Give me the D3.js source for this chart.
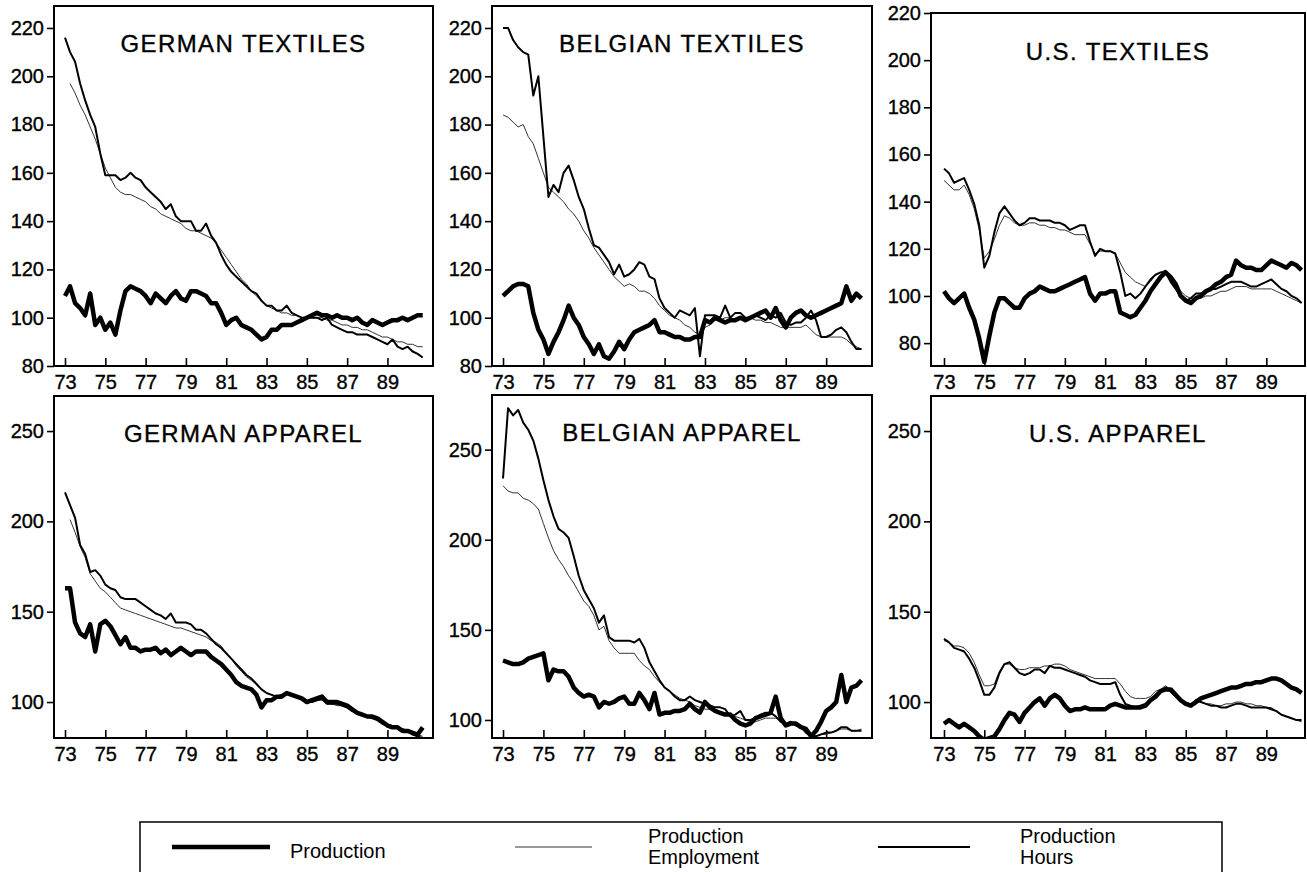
<!DOCTYPE html>
<html>
<head>
<meta charset="utf-8">
<script src="https://cdn.jsdelivr.net/npm/d3@7"></script>
<style>
  body { margin: 0; background: #fff; }
  svg text { font-family: "Liberation Sans", Arial, Helvetica, sans-serif; fill: #000; }
  .heavy { stroke: #000; stroke-width: 0.35px; }
</style>
</head>
<body>
<div id="chart"></div>
<script>
// Quarterly indexes, first point = 1973 Q1, one value per quarter (72 quarters)
var firstYear = 73;
var xTickYears = [73, 75, 77, 79, 81, 83, 85, 87, 89];
var textileTicks = [80, 100, 120, 140, 160, 180, 200, 220];
var apparelTicks = [100, 150, 200, 250];
var usApparelTicks = [100, 150, 200, 250];

// ---- German textiles
var germanTextilesProduction = [109,113,106,104,101,110,97,100,95,98,93,103, 111,113,112,111,109,106,110,108,106,109,111,108,
  107,111,111,110,109,106,106,102, 97,99,100,97,96,95,93,91, 92,95,95,97,97,97,98,99,
  100,101,102,101,101,100,101,100, 100,99,100,98,97,99,98,97, 98,99,99,100,99,100,101,101];
var germanTextilesEmployment = [null,197,193,188,184,179,174,168,162,158,154,152, 151,151,150,149,148,146,145,143,142,141,140,139,
  137,136,136,135,134,133,131,128, 125,122,119,116,114,111,109,107, 105,104,103,102,102,101,101,100,
  100,100,100,100,99,99,98,97, 97,96,96,95,95,94,93,92, 92,91,90,90,89,89,88,88];
var germanTextilesHours = [216,210,206,197,190,184,179,168,159,159,159,157, 158,160,158,157,154,152,150,148,145,147,142,140,
  140,140,136,136,139,134,131,126, 122,119,117,115,113,111,110,107, 105,105,103,103,105,102,101,100,
  100,100,100,99,100,97,96,95, 94,94,93,93,93,92,91,90, 89,91,88,87,88,86,85,83.5];

// ---- Belgian textiles
var belgianTextilesProduction = [109,111,113,114,114,113,102,95,91,85,90,94, 99,105,100,97,92,89,85,89,84,83,86,90,
  87,91,94,95,96,97,99,94, 94,93,92,92,91,91,92,92, 99,98,100,99,98,99,99,100,
  99,100,101,102,103,100,104,99, 96,100,102,103,101,100,101,102, 103,104,105,106,113,107,110,108];
var belgianTextilesEmployment = [184,183,181,179,180,175,172,166,160,154,152,150, 148,145,143,140,136,133,129,126,123,120,117,115,
  113,114,113,111,111,110,108,105, 103,101,100,99,97,96,94,93, 96,97,99,99,100,100,99,100,
  100,100,99,99,98,98,97,96, 96,96,96,96,97,95,93,92, 92,92,92,92,91,89,88,87];
var belgianTextilesHours = [220,220,215,212,210,209,192,200,175,150,155,152, 160,163,157,150,145,137,130,129,126,123,118,122,
  117,118,120,123,122,117,116,108, 104,102,100,103,102,101,104,84, 101,101,101,100,105,100,102,102,
  100,100,101,100,99,101,100,102, 98,97,98,98,100,103,99,92, 92,93,95,96,94,90,87,87];

// ---- U.S. textiles
var usTextilesProduction = [102,99,97,99,101,95,90,82,72,83,93,99, 99,97,95,95,99,101,102,104,103,102,102,103,
  104,105,106,107,108,101,98,101, 101,102,102,93,92,91,92,95, 98,102,105,108,110,108,105,100,
  98,97,99,100,102,103,105,106, 108,109,115,113,112,112,111,111, 113,115,114,113,112,114,113,111];
var usTextilesEmployment = [149,147,145,145,147,143,137,128,116,119,124,130, 134,133,131,130,130,131,131,130,130,129,129,128,
  128,127,126,126,126,122,118,119, 119,119,118,114,110,108,106,105, 104,106,109,110,111,108,105,102,
  100,99,99,99,100,100,101,102, 102,103,104,104,104,103,103,103, 103,103,102,101,100,99,98,97];
var usTextilesHours = [154,152,148,149,150,145,139,130,112,117,127,135, 138,135,132,130,131,133,133,132,132,132,131,131,
  130,128,129,130,130,123,117,120, 119,119,118,110,100,101,99,101, 104,107,109,110,110,106,103,100,
  98,99,101,101,102,103,103,104, 105,106,106,106,105,104,104,105, 106,107,105,103,102,100,99,97];

// ---- German apparel
var germanApparelProduction = [163,163,144,138,136,143,128,143,145,142,137,132, 136,130,130,128,129,129,130,127,129,126,128,130,
  128,126,128,128,128,125,123,121, 118,115,111,109,108,107,104,97, 101,101,103,103,105,104,103,102,
  100,101,102,103,100,100,100,99, 98,96,94,93,92,92,91,89, 87,86,86,84,84,83,82,86];
var germanApparelEmployment = [null,201,194,186,180,171,167,163,161,158,155,152, 151,150,149,148,147,146,145,144,143,142,141,141,
  140,139,138,137,136,134,133,131, 127,124,120,117,114,112,110,107, 105,104,103,104,104,104,103,101,
  100,100,101,101,99,99,98,98, 97,96,94,93,92,91,90,89, 88,87,86,85,84,83,82,81];
var germanApparelHours = [216,209,202,187,182,172,173,170,165,163,162,158, 157,157,157,155,153,151,149,148,146,149,144,144,
  144,143,140,140,138,135,132,130, 127,124,121,118,115,113,110,107, 105,104,103,104,105,104,103,102,
  100,100,101,102,99,99,99,98, 97,95,94,93,92,91,90,88, 87,86,86,85,84,82,81,80];

// ---- Belgian apparel
var belgianApparelProduction = [133,132,131,131,132,134,135,136,137,122,128,127, 127,124,118,115,113,114,113,107,110,109,110,112,
  113,109,109,115,111,106,115,103, 104,104,105,105,106,109,106,104, 110,107,105,104,103,103,100,98,
  97,98,101,102,103,104,113,101, 97,98,98,96,95,91,94,99, 105,107,110,125,110,118,119,122];
var belgianApparelEmployment = [230,227,226,226,223,222,220,217,209,201,194,189, 185,180,176,171,166,163,158,150,152,144,140,137,
  137,137,137,133,130,128,124,121, 118,116,114,112,111,110,108,107, 106,106,105,104,104,103,102,101,
  100,99,99,100,101,101,101,100, 98,98,97,97,94,91,91,92, 92,93,94,95,95,94,94,95];
var belgianApparelHours = [234,273,269,272,265,261,255,245,233,222,213,206, 204,201,191,180,172,167,162,154,158,146,144,144,
  144,144,143,145,140,132,127,122, 118,116,113,111,111,113,111,110, 109,108,107,107,106,102,103,105,
  100,100,101,103,104,104,102,99, 98,99,97,96,93,91,91,92, 93,93,94,96,96,94,94,94];

// ---- U.S. apparel
var usApparelProduction = [88,90,88,86,88,86,84,81,79,80,81,85, 90,94,93,89,94,97,100,102,98,102,104,102,
  98,95,96,96,97,96,96,96, 96,98,99,98,97,97,97,97, 98,101,103,106,107,107,104,101,
  99,98,100,102,103,104,105,106, 107,108,108,109,110,110,111,111, 112,113,113,112,110,108,107,105];
var usApparelEmployment = [134,133,131,131,130,127,122,115,109,109,110,117, 121,121,119,118,118,119,119,119,120,120,121,121,
  120,118,117,116,115,114,113,113, 113,113,113,110,106,103,102,102, 102,103,106,107,109,107,104,101,
  100,99,101,100,99,99,98,98, 99,99,100,100,99,99,98,98, 97,97,95,93,92,91,90,89];
var usApparelHours = [135,133,130,129,128,124,119,112,104,104,108,116, 121,122,119,116,115,116,118,118,116,120,119,119,
  118,117,116,115,114,112,111,110, 110,110,111,104,99,98,97,98, 99,101,104,106,108,106,103,101,
  99,98,101,100,99,98,98,97, 97,98,99,99,98,97,97,97, 97,96,95,93,92,91,90,90];

var seriesNames = ["Production", "Production Employment", "Production Hours"];

// layout of the six boxes (pixels) and the axis extent each box shows
var panels = [
  { title: "GERMAN TEXTILES", data: [germanTextilesProduction, germanTextilesEmployment, germanTextilesHours],
    ticks: textileTicks, left: 54, right: 433, top: 6, bottom: 366, xDom: [72.454, 91.26], yDom: [80, 229.1], titleY: 52 },
  { title: "BELGIAN TEXTILES", data: [belgianTextilesProduction, belgianTextilesEmployment, belgianTextilesHours],
    ticks: textileTicks, left: 492, right: 872, top: 6, bottom: 366, xDom: [72.455, 91.27], yDom: [80, 229.1], titleY: 52 },
  { title: "U.S. TEXTILES", data: [usTextilesProduction, usTextilesEmployment, usTextilesHours],
    ticks: textileTicks, left: 931, right: 1305, top: 13, bottom: 366, xDom: [72.355, 90.92], yDom: [70.3, 220], titleY: 60 },
  { title: "GERMAN APPAREL", data: [germanApparelProduction, germanApparelEmployment, germanApparelHours],
    ticks: apparelTicks, left: 54, right: 433, top: 396, bottom: 738, xDom: [72.454, 91.26], yDom: [80.1, 269.4], titleY: 442 },
  { title: "BELGIAN APPAREL", data: [belgianApparelProduction, belgianApparelEmployment, belgianApparelHours],
    ticks: apparelTicks, left: 492, right: 872, top: 395, bottom: 738, xDom: [72.455, 91.27], yDom: [90, 280.3], titleY: 441 },
  { title: "U.S. APPAREL", data: [usApparelProduction, usApparelEmployment, usApparelHours],
    ticks: usApparelTicks, left: 931, right: 1305, top: 396, bottom: 738, xDom: [72.355, 90.92], yDom: [80.1, 269.4], titleY: 442 }
];

// line styles: production thick, employment hairline, hours medium
var lineStyles = [
  { width: 4.5, color: "#000" },
  { width: 1, color: "#333" },
  { width: 2, color: "#000" }
];
var drawOrder = [1, 2, 0];

var svg = d3.select("#chart")
  .append("svg")
  .attr("width", 1307)
  .attr("height", 872);

svg.append("rect").attr("width", 1307).attr("height", 872).attr("fill", "#fff");

panels.forEach(function(p, pi) {
  var x = d3.scaleLinear().domain(p.xDom).range([p.left, p.right]);
  var y = d3.scaleLinear().domain(p.yDom).range([p.bottom, p.top]);
  var g = svg.append("g");

  g.append("clipPath").attr("id", "clip" + pi)
    .append("rect")
    .attr("x", p.left).attr("y", p.top)
    .attr("width", p.right - p.left).attr("height", p.bottom - p.top);

  // x axis with ticks pointing up into the box
  var xAxis = g.append("g")
    .attr("transform", "translate(0," + p.bottom + ")")
    .call(d3.axisBottom(x).tickValues(xTickYears).tickSizeInner(-8).tickSizeOuter(0).tickPadding(9));
  xAxis.select(".domain").remove();

  var yAxis = g.append("g")
    .attr("transform", "translate(" + p.left + ",0)")
    .call(d3.axisLeft(y).tickValues(p.ticks).tickSizeInner(7).tickSizeOuter(0).tickPadding(3));
  yAxis.select(".domain").remove();

  g.selectAll(".tick line").attr("stroke", "#000").attr("stroke-width", 1.6);
  g.selectAll(".tick text").style("font-size", "20px").attr("fill", "#000").attr("class", "heavy");

  // box
  g.append("rect")
    .attr("x", p.left).attr("y", p.top)
    .attr("width", p.right - p.left).attr("height", p.bottom - p.top)
    .attr("fill", "none")
    .attr("stroke", "#000")
    .attr("stroke-width", 2);

  g.append("text")
    .attr("class", "heavy")
    .attr("x", (p.left + p.right) / 2)
    .attr("y", p.titleY)
    .attr("text-anchor", "middle")
    .style("font-size", "24px")
    .style("letter-spacing", "1.4px")
    .text(p.title);

  var line = d3.line()
    .defined(function(d) { return d != null; })
    .x(function(d, i) { return x(firstYear + i / 4); })
    .y(function(d) { return y(d); })
    .curve(d3.curveLinear);

  drawOrder.forEach(function(si) {
    g.append("path")
      .datum(p.data[si])
      .attr("clip-path", "url(#clip" + pi + ")")
      .attr("fill", "none")
      .attr("stroke", lineStyles[si].color)
      .attr("stroke-width", lineStyles[si].width)
      .attr("stroke-linejoin", "round")
      .attr("d", line);
  });
});

// legend
var legend = svg.append("g");
legend.append("rect")
  .attr("x", 140).attr("y", 822)
  .attr("width", 1082).attr("height", 80)
  .attr("fill", "none").attr("stroke", "#000").attr("stroke-width", 1.5);

var legendItems = [
  { x1: 172, x2: 270, tx: 290, lines: ["Production"] },
  { x1: 515, x2: 592, tx: 648, lines: ["Production", "Employment"] },
  { x1: 878, x2: 970, tx: 1020, lines: ["Production", "Hours"] }
];

legendItems.forEach(function(item, i) {
  legend.append("line")
    .attr("x1", item.x1).attr("x2", item.x2)
    .attr("y1", 847).attr("y2", 847)
    .attr("stroke", lineStyles[i].color)
    .attr("stroke-width", lineStyles[i].width);
  var baseY = item.lines.length === 1 ? 858 : 843;
  item.lines.forEach(function(t, k) {
    legend.append("text")
      .attr("x", item.tx)
      .attr("y", baseY + k * 21)
      .style("font-size", "20px")
      .text(t);
  });
});
</script>
</body>
</html>
